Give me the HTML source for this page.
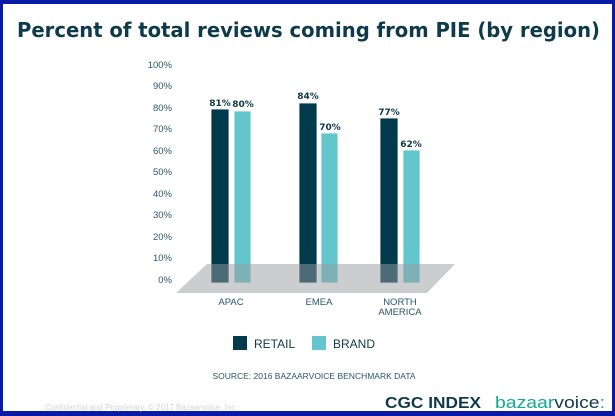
<!DOCTYPE html>
<html><head><style>
body{margin:0;width:615px;height:416px;overflow:hidden;background:#fff}
.f{position:absolute;left:0;top:0;width:609px;height:407px;border-style:solid;border-color:#0a1aa8;border-width:4px 3px 5px 3px;background:#fff;font-family:"Liberation Sans","DejaVu Sans",sans-serif}
</style></head><body>
<div class="f"></div>
<svg width="615" height="416" style="position:absolute;left:0;top:0" font-family="Liberation Sans, DejaVu Sans, sans-serif">
<text x="17" y="37" textLength="583" lengthAdjust="spacingAndGlyphs" font-family="DejaVu Sans, sans-serif" font-weight="bold" font-size="20" fill="#0f3a4a">Percent of total reviews coming from PIE (by region)</text>
<g font-size="9.5" fill="#2a5868" text-anchor="end">
<text x="172" y="68">100%</text><text x="172" y="89">90%</text><text x="172" y="111">80%</text><text x="172" y="132">70%</text><text x="172" y="154">60%</text><text x="172" y="175">50%</text><text x="172" y="197">40%</text><text x="172" y="218">30%</text><text x="172" y="240">20%</text><text x="172" y="261">10%</text><text x="172" y="283">0%</text>
</g>
<g stroke="#fff" stroke-width="0.8">
<rect x="211" y="109" width="18" height="174" fill="#003a4d"/>
<rect x="234" y="111" width="17" height="172" fill="#62c6cc"/>
<rect x="299" y="103" width="18" height="180" fill="#003a4d"/>
<rect x="321" y="133" width="17" height="150" fill="#62c6cc"/>
<rect x="380" y="118" width="18" height="165" fill="#003a4d"/>
<rect x="403" y="150" width="17" height="133" fill="#62c6cc"/>
</g>
<polygon points="207,264 455,264 427,293 176,293" fill="#9a9c9f" opacity="0.5"/>
<g font-size="9" font-weight="bold" fill="#0f3a4a" text-anchor="middle" font-family="DejaVu Sans, sans-serif">
<text x="220" y="106">81%</text><text x="243" y="107">80%</text>
<text x="308" y="99">84%</text><text x="330" y="130">70%</text>
<text x="389" y="115">77%</text><text x="411" y="147">62%</text>
</g>
<g font-size="9.5" fill="#2a5868" text-anchor="middle">
<text x="231" y="305">APAC</text><text x="319" y="305">EMEA</text><text x="400" y="305">NORTH</text><text x="400" y="315">AMERICA</text>
</g>
<rect x="233" y="336" width="14" height="14" fill="#003a4d"/>
<text x="254" y="348" font-size="12" fill="#0f3a4a">RETAIL</text>
<rect x="312" y="336" width="14" height="14" fill="#62c6cc"/>
<text x="333" y="348" font-size="12" fill="#0f3a4a">BRAND</text>
<text x="314" y="379" text-anchor="middle" font-size="8.5" fill="#2a5868">SOURCE: 2016 BAZAARVOICE BENCHMARK DATA</text>
<text x="45" y="410" font-size="8" fill="#d4d4d4">Confidential and Proprietary. © 2017 Bazaarvoice, Inc.</text>
<text x="385" y="408" font-size="16" font-weight="bold" fill="#0f3a4a" textLength="96" lengthAdjust="spacingAndGlyphs">CGC INDEX</text>
<text x="495" y="408" font-size="17" fill="#14a898" textLength="110" lengthAdjust="spacingAndGlyphs">bazaar<tspan fill="#0f3a4a">voice</tspan><tspan fill="#14a898">:</tspan></text>
</svg>
</body></html>
